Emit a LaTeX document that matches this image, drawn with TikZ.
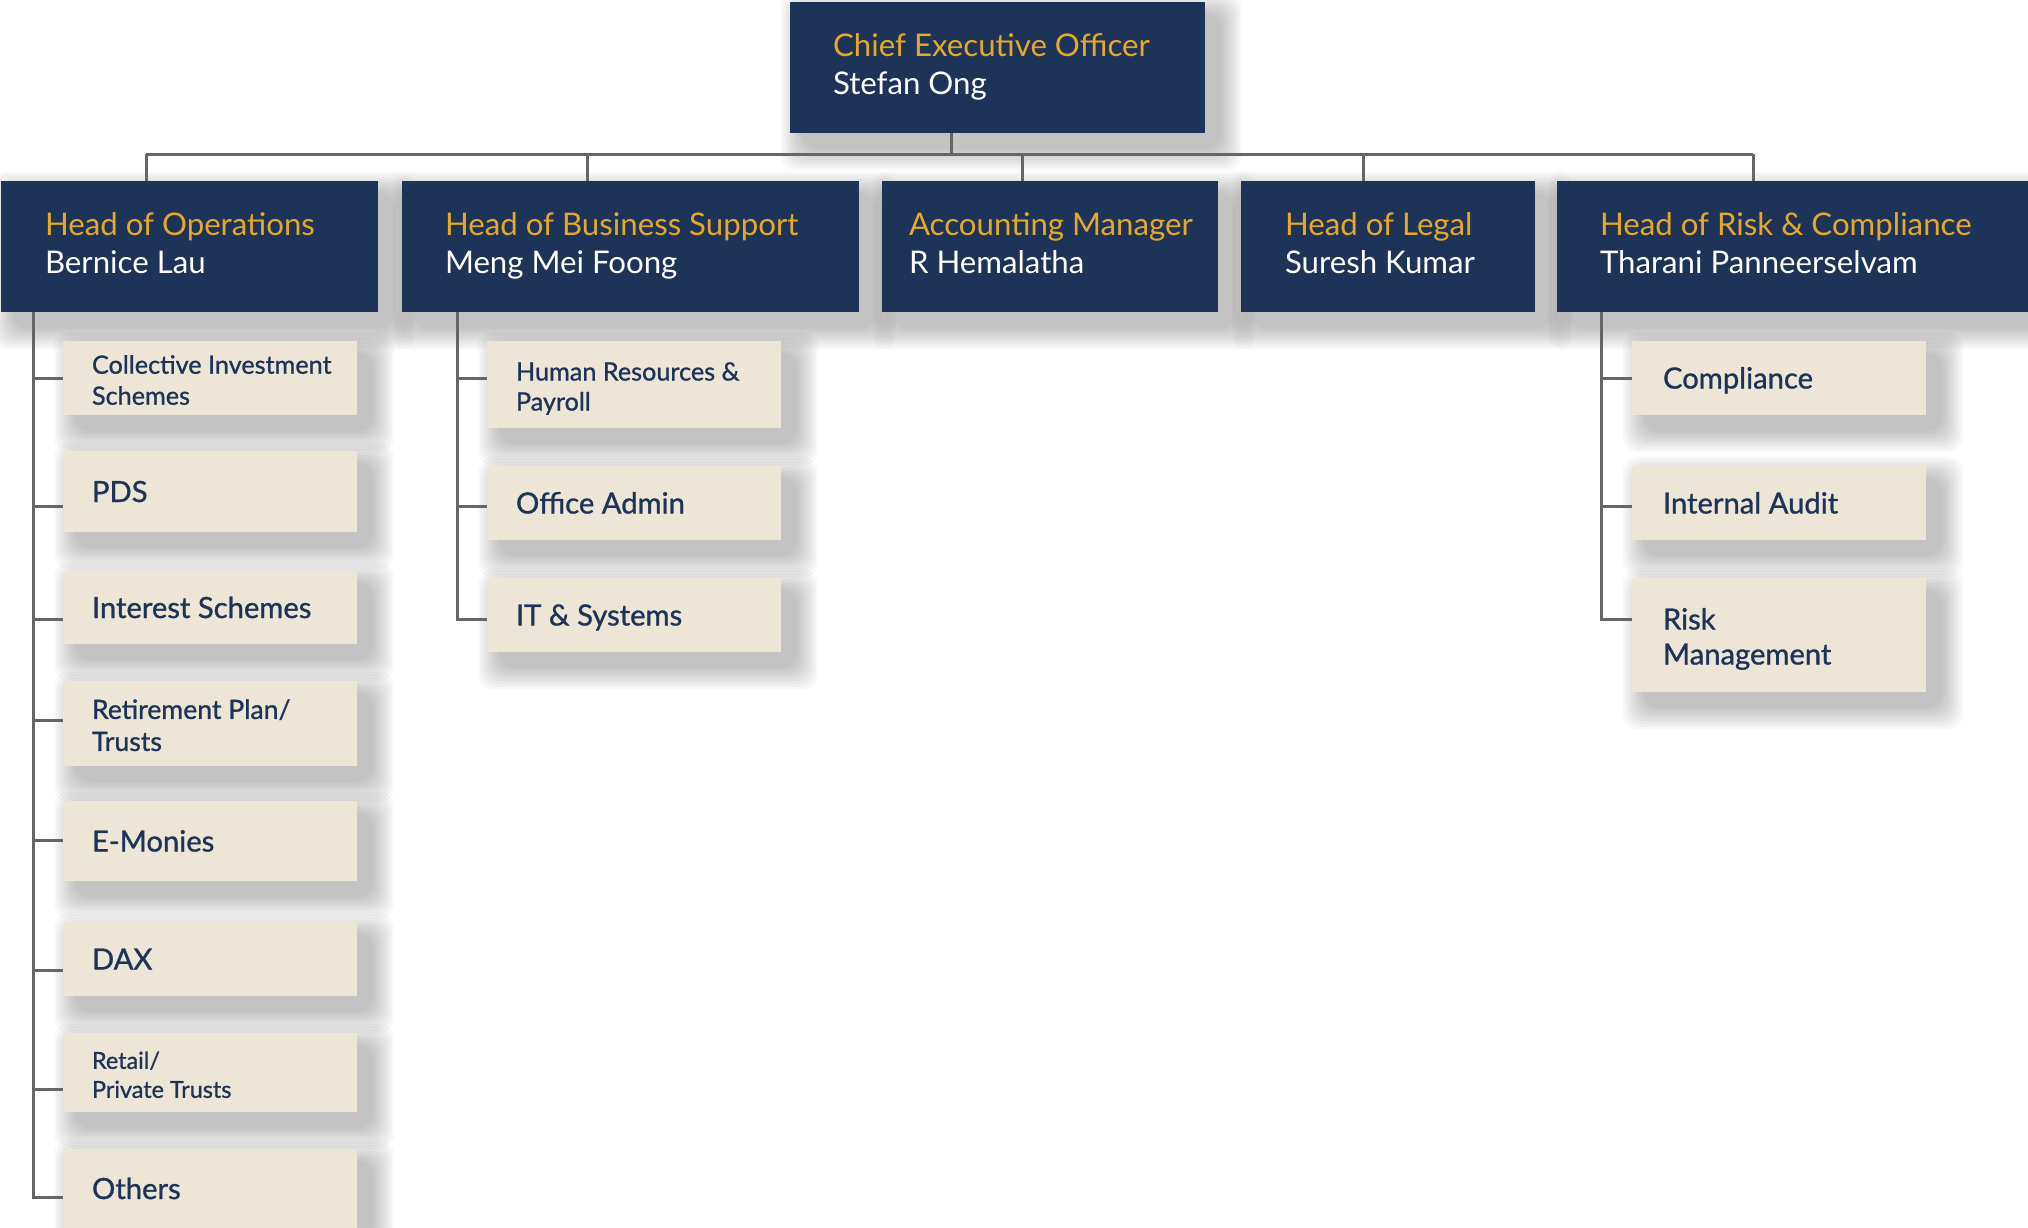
\documentclass[tikz,border=0pt]{standalone}
\usepackage{fontspec}
\setmainfont{Lato}
\newfontface\medfont{Lato}[FakeBold=1]
\usetikzlibrary{positioning}
\definecolor{navy}{HTML}{1E3358}
\definecolor{gold}{HTML}{E6A82A}
\definecolor{beige}{HTML}{EDE6D6}
\definecolor{wire}{HTML}{666666}

\begin{document}
\begin{tikzpicture}[x={(0.5pt,0)}, y={(0,-0.5pt)}]
    \tikzstyle{head} = [fill=navy, minimum height=65.5pt, inner sep=0pt];
    \tikzstyle{headtext} = [inner sep=0pt, anchor=west, align=left, text=white, font=\fontsize{15.6}{19}\selectfont];
    \tikzstyle{sub} = [fill=beige, minimum width=147pt, inner sep=0pt];
    \tikzstyle{haze} = [fill=black, opacity=0.028, rounded corners=8pt];
    \tikzstyle{subtext} = [inner sep=0pt, anchor=west, align=left, text=navy];
    \tikzstyle{one} = [subtext, font=\medfont\fontsize{14.6}{17.5}\selectfont, text height=10.5pt, text depth=0pt];
    \tikzstyle{twoA} = [subtext, yshift=-2.5pt, font=\medfont\fontsize{12.6}{15.5}\selectfont];
    \tikzstyle{twoB} = [subtext, yshift=-2.5pt, font=\medfont\fontsize{12.6}{15}\selectfont];
    \tikzstyle{twoC} = [subtext, yshift=-2.5pt, font=\medfont\fontsize{13.3}{16}\selectfont];
    \tikzstyle{twoD} = [subtext, yshift=-2.5pt, font=\medfont\fontsize{11.7}{14.5}\selectfont];
    \tikzstyle{twoE} = [subtext, yshift=-2.5pt, font=\medfont\fontsize{14.6}{17.5}\selectfont];
    \tikzstyle{link} = [draw=wire, line width=1.5pt];
    \useasboundingbox (0,0) rectangle (2028,1227);
    \fill[white] (0,0) rectangle (2028,1227);
    % top
    \foreach \k in {1,...,9}
    {\fill[haze] (790+14-\k*2.6,2+14-\k*2.6) rectangle (1205+14+\k*2.6,133+14+\k*2.6);}
    \node[head, minimum width=207.5pt] (ceo) at (997.5,67.5) {};
    \node[headtext, right=21.5pt of ceo.west] (ceo txt) {\textcolor{gold}{Chief Executive Officer}\strut\\Stefan Ong\strut};
    \coordinate (tapceo) at (951,154);
    % second row
    \foreach \n/\xa/\xb/\stem/\pad/\ti/\nm in {ops/1/378/146/22pt/{Head of Operations}/{Bernice Lau},
        bus/402/859/587/21.5pt/{Head of Business Support}/{Meng Mei Foong},
        acc/882/1218/1022/13.5pt/{Accounting Manager}/{R Hemalatha},
        leg/1241/1535/1363/22pt/{Head of Legal}/{Suresh Kumar},
        risk/1557/2045/1753/21.5pt/{Head of Risk \& Compliance}/{Tharani Panneerselvam}}
    {
    \foreach \k in {1,...,9}
    {\fill[haze] (\xa+14-\k*2.6,181+14-\k*2.6) rectangle (\xb+14+\k*2.6,312+14+\k*2.6);}
    \node[head, minimum width=(\xb-\xa)*0.5pt] (\n) at ({(\xa+\xb)/2},246.5) {};
    \node[headtext, right=\pad of \n.west] (\n txt) {\textcolor{gold}{\ti}\strut\\\nm\strut};
    \coordinate (tap\n) at (\stem,154);
    }
    % operations
    \foreach \n/\ya/\yb/\tap/\f/\txt in {cis/341/415/378/twoA/{Collective Investment\strut\\Schemes\strut},
        pds/451/532/506/one/PDS,
        int/571/644/619/one/{Interest Schemes},
        ret/681/766/720/twoC/{Retirement Plan/\strut\\Trusts\strut},
        emo/801/881/840/one/E-Monies,
        dax/922/996/970/one/DAX,
        rpt/1033/1112/1089/twoD/{Retail/\strut\\Private Trusts\strut},
        oth/1149/1228/1197/one/Others}
    {
    \foreach \k in {1,...,9}
    {\fill[haze] (63+14-\k*2.6,\ya+14-\k*2.6) rectangle (357+14+\k*2.6,\yb+14+\k*2.6);}
    \node[sub, minimum height=(\yb-\ya)*0.5pt] (\n) at (210,{(\ya+\yb)/2}) {};
    \node[\f, right=14.5pt of \n.west] (\n txt) {\txt};
    \coordinate (tap\n) at (33,\tap);
    }
    % business support
    \foreach \n/\ya/\yb/\tap/\f/\txt in {hrp/341/428/378/twoB/{Human Resources \&\strut\\Payroll\strut},
        oad/466/540/506/one/{Office Admin},
        its/578/652/619/one/{IT \& Systems}}
    {
    \foreach \k in {1,...,9}
    {\fill[haze] (487+14-\k*2.6,\ya+14-\k*2.6) rectangle (781+14+\k*2.6,\yb+14+\k*2.6);}
    \node[sub, minimum height=(\yb-\ya)*0.5pt] (\n) at (634,{(\ya+\yb)/2}) {};
    \node[\f, right=14.5pt of \n.west] (\n txt) {\txt};
    \coordinate (tap\n) at (457,\tap);
    }
    % risk and compliance
    \foreach \n/\ya/\yb/\tap/\f/\txt in {com/341/415/378/one/Compliance,
        iau/466/540/506/one/{Internal Audit},
        rmg/578/692/619/twoE/{Risk\strut\\Management\strut}}
    {
    \foreach \k in {1,...,9}
    {\fill[haze] (1632+14-\k*2.6,\ya+14-\k*2.6) rectangle (1926+14+\k*2.6,\yb+14+\k*2.6);}
    \node[sub, minimum height=(\yb-\ya)*0.5pt] (\n) at (1779,{(\ya+\yb)/2}) {};
    \node[\f, right=15.5pt of \n.west] (\n txt) {\txt};
    \coordinate (tap\n) at (1601,\tap);
    }
    % connectors
    \draw[link] (ceo.south -| tapceo) -- (tapceo);
    \draw[link] (tapops) -- (taprisk);
    \foreach \n in {ops,bus,acc,leg,risk}
    {\draw[link] (tap\n) -- (tap\n |- \n.north);}
    \draw[link] (ops.south -| tapoth) -- (tapoth) -- (tapoth -| oth.west);
    \draw[link] (bus.south -| tapits) -- (tapits) -- (tapits -| its.west);
    \draw[link] (risk.south -| taprmg) -- (taprmg) -- (taprmg -| rmg.west);
    \foreach \n in {cis,pds,int,ret,emo,dax,rpt,hrp,oad,com,iau}
    {\draw[link] (tap\n) -- (tap\n -| \n.west);}
\end{tikzpicture}
\end{document}
